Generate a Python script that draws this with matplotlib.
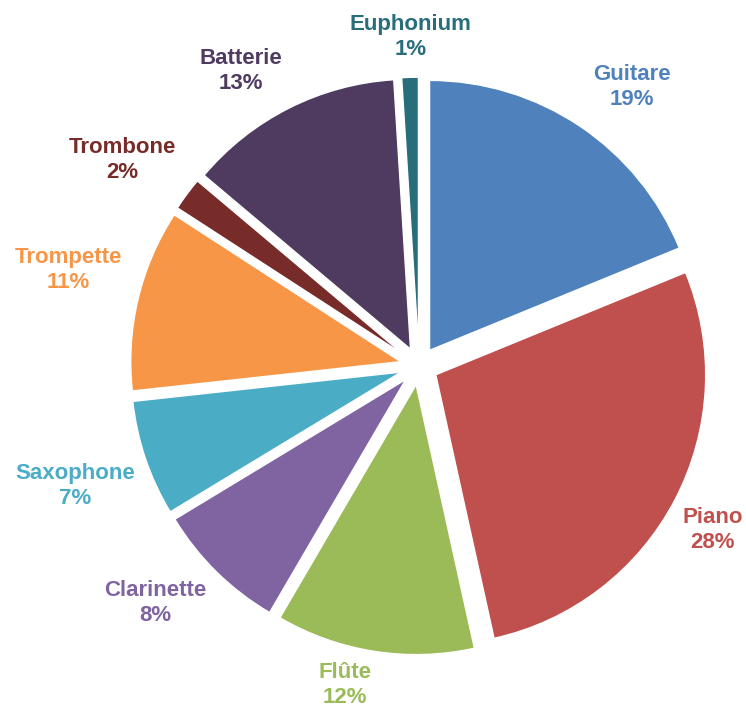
import numpy as np
import matplotlib.pyplot as plt

# Instrument shares (%)
instruments = ['Guitare', 'Piano', 'Flûte', 'Clarinette', 'Saxophone',
               'Trompette', 'Trombone', 'Batterie', 'Euphonium']
shares = [19, 28, 12, 8, 7, 11, 2, 13, 1]
colors = ['#4F81BD', '#C0504D', '#9BBB59', '#8064A2', '#4BACC6',
          '#F79646', '#772C2A', '#4E3B5F', '#286D7A']

# label placement: distance from centre and angle nudge (deg) per slice
label_dist = [1.30, 1.245, 1.213, 1.314, 1.349, 1.348, 1.339, 1.278, 1.219]
label_nudge = [-3.4, -1.6, -4.2, -3.5, 0.5, -2.0, 1.8, 4.4, -0.3]

fig = plt.figure(figsize=(7.46, 7.08), dpi=100)
ax = fig.add_axes([0, 0, 1, 1])

wedges, _ = ax.pie(shares, colors=colors, startangle=90, counterclock=False,
                   explode=[0.07] * len(shares), radius=1.0,
                   wedgeprops=dict(edgecolor='white', linewidth=1))

for w, name, pct, col, d, nudge in zip(wedges, instruments, shares, colors,
                                       label_dist, label_nudge):
    mid = np.deg2rad((w.theta1 + w.theta2) / 2 + nudge)
    ax.text(d * np.cos(mid), d * np.sin(mid), f'{name}\n{pct}%',
            ha='center', va='center', color=col, fontsize=16,
            fontweight='bold', family=['Liberation Sans', 'DejaVu Sans'],
            linespacing=1.25)

ax.set_xlim(-1.552, 1.211)
ax.set_ylim(-1.267, 1.356)
ax.set_aspect('equal')
ax.axis('off')

fig.savefig('out.png', dpi=100)
